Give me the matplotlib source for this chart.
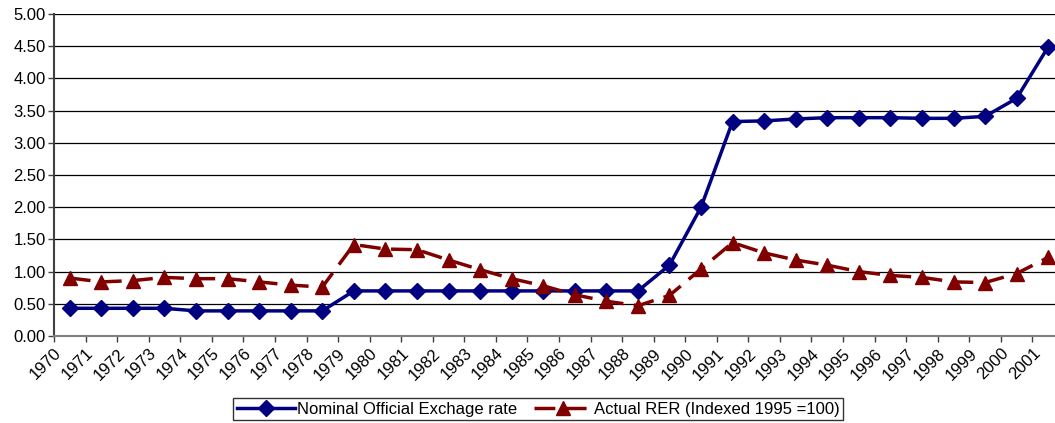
import numpy as np
import matplotlib.pyplot as plt

plt.rcParams['font.family'] = ['Liberation Sans', 'DejaVu Sans']

years = [str(y) for y in range(1970, 2002)]
nominal = [0.43, 0.43, 0.43, 0.43, 0.39, 0.39, 0.39, 0.39, 0.39, 0.70,
           0.70, 0.70, 0.70, 0.70, 0.70, 0.70, 0.70, 0.70, 0.70, 1.10,
           2.00, 3.33, 3.34, 3.37, 3.39, 3.39, 3.39, 3.38, 3.38, 3.41,
           3.69, 4.49]
rer = [0.90, 0.84, 0.86, 0.91, 0.89, 0.89, 0.84, 0.79, 0.76, 1.42,
       1.35, 1.34, 1.18, 1.03, 0.89, 0.78, 0.64, 0.54, 0.47, 0.63,
       1.04, 1.45, 1.29, 1.18, 1.10, 1.00, 0.94, 0.91, 0.84, 0.83,
       0.97, 1.22]

fig = plt.figure(figsize=(10.55, 4.23), dpi=100)
ax = fig.add_axes([0.0512, 0.2057, 0.9573, 0.7612])

x = np.arange(len(years))
ax.plot(x, nominal, color='#000080', lw=2.5, marker='D', markersize=8,
        label='Nominal Official Exchage rate', zorder=3)
ax.plot(x, rer, color='#800000', lw=2.5, marker='^', markersize=10,
        dashes=(6, 3), label='Actual RER (Indexed 1995 =100)', zorder=3)

ax.set_xlim(-0.5, len(years) - 0.5)
ax.set_ylim(0, 5)
ax.set_yticks(np.arange(0, 5.01, 0.5))
ax.set_yticklabels(['%.2f' % v for v in np.arange(0, 5.01, 0.5)], fontsize=12)
ax.set_xticks(x - 0.5)
ax.set_xticklabels(years, rotation=45, ha='right', rotation_mode='anchor', fontsize=12)
ax.tick_params(axis='both', direction='out', length=4, color='#404040', width=1)
ax.tick_params(axis='y', pad=2)
ax.tick_params(axis='x', pad=3)

ax.grid(axis='y', color='black', lw=0.9)
ax.set_axisbelow(True)
for s in ['top', 'right']:
    ax.spines[s].set_visible(False)
ax.spines['left'].set_color('#404040')
ax.spines['left'].set_linewidth(1.5)
ax.spines['bottom'].set_color('#808080')
ax.spines['bottom'].set_linewidth(1.5)

leg = fig.legend(loc='center', bbox_to_anchor=(538 / 1055, 1 - 409 / 423), ncol=2,
                 frameon=True, fancybox=False, edgecolor='black', fontsize=12,
                 handlelength=3.5, columnspacing=1.0, borderpad=0.2, handletextpad=0.1)
leg.get_frame().set_linewidth(1)

fig.savefig('out.png', dpi=100)
